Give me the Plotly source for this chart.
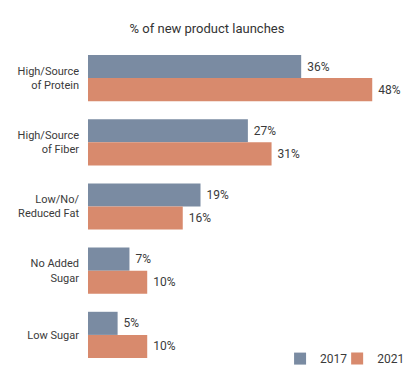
import plotly.graph_objects as go

categories = ["High/Source<br>of Protein", "High/Source<br>of Fiber", "Low/No/<br>Reduced Fat", "No Added<br>Sugar", "Low Sugar"]
values_2017 = [36, 27, 19, 7, 5]
values_2021 = [48, 31, 16, 10, 10]

FONT = "Roboto, sans-serif"
c2017 = "#7a8ba2"
c2021 = "#d88a6d"

fig = go.Figure()
for name, vals, col, lg in [("2017", values_2017, c2017, "legend"), ("2021", values_2021, c2021, "legend2")]:
    fig.add_trace(go.Bar(y=categories, x=vals, orientation="h", name=name, legend=lg,
                         marker=dict(color=col, line=dict(width=0)),
                         text=[f"{v}%" for v in vals], texttemplate=" %{text}",
                         textposition="outside", cliponaxis=False,
                         textfont=dict(size=12, color="#3a3a3a", family=FONT)))

leg_common = dict(orientation="h", y=-0.019, yanchor="bottom", xanchor="left",
                  font=dict(size=12, color="#3a3a3a", family=FONT), bgcolor="rgba(0,0,0,0)")

# page has an 8px body margin; figure is sized to fit the remaining window
fig.update_layout(
    width=403, height=366,
    margin=dict(l=80, r=21, t=38, b=7, autoexpand=False),
    paper_bgcolor="white", plot_bgcolor="white",
    barmode="group", bargap=0.28, bargroupgap=0,
    title=dict(text="% of new product launches", x=199 / 403, xanchor="center", xref="container",
               y=1 - 20 / 366, yanchor="middle",
               font=dict(size=13, color="#333333", family=FONT)),
    font=dict(family=FONT, size=12, color="#3a3a3a"),
    xaxis=dict(range=[0, 51], visible=False),
    yaxis=dict(autorange="reversed", showline=False, ticks="", ticklen=0, ticklabelstandoff=8,
               automargin=False,
               tickfont=dict(size=11, color="#3a3a3a", family=FONT)),
    showlegend=True,
    legend=dict(x=0.636, **leg_common),
    legend2=dict(x=0.825, **leg_common),
)

fig.write_html("out.html")
